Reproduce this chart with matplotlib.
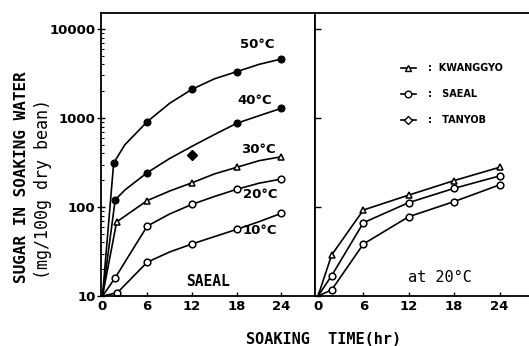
import matplotlib
matplotlib.use("Agg")
from matplotlib import pyplot as plt
from matplotlib.ticker import FixedLocator, NullFormatter, LogLocator
from matplotlib.lines import Line2D
import numpy as np

# left panel: SAEAL soaked at different temperatures (measured points)
t50 = [1.5, 6, 12, 18, 24]
s50 = [312, 908, 2100, 3310, 4600]
t40 = [1.7, 6, 12, 18, 24]
s40 = [120, 243, 384, 871, 1285]
t30 = [1.9, 6, 12, 18, 24]
s30 = [68, 118, 187, 279, 367]
t20 = [1.7, 6, 12, 18, 24]
s20 = [16, 61, 107, 158, 206]
t10 = [2, 6, 12, 18, 24]
s10 = [10.9, 24, 38.4, 56, 85]

# drawn curves
ct50 = [0, 1.5, 3, 6, 9, 12, 15, 18, 21, 24]
cv50 = [10, 312, 500, 908, 1460, 2100, 2750, 3310, 4000, 4600]
ct40 = [0, 1.7, 3, 6, 9, 12, 15, 18, 21, 24]
cv40 = [10, 120, 155, 243, 350, 480, 650, 871, 1060, 1285]
ct30 = [0, 1.9, 6, 9, 12, 15, 18, 21, 24]
cv30 = [10, 68, 118, 151, 187, 235, 279, 331, 367]
ct20 = [0, 1.7, 6, 9, 12, 15, 18, 21, 24]
cv20 = [10, 16, 61, 83.4, 107, 131, 158, 185, 206]
ct10 = [0, 2, 6, 9, 12, 15, 18, 21, 24]
cv10 = [10, 10.9, 24, 31.2, 38.4, 46.4, 56, 68.4, 85]

temp_labels = ["50°C", "40°C", "30°C", "20°C", "10°C"]

# right panel: three varieties at 20 C
tv = [0, 1.8, 6, 12, 18, 24]
kwanggyo = [10, 28.9, 92.5, 136, 198, 279]
saeal = [10, 16.9, 66.6, 112, 162, 223]
tanyob = [10, 11.7, 38.4, 77.8, 115, 177]
varieties = ["KWANGGYO", "SAEAL", "TANYOB"]

xticks = [0, 6, 12, 18, 24]

fig = plt.figure(figsize=(5.29, 3.46), dpi=100)
ax1 = fig.add_axes([101/529, 1-296/346, 214/529, 283/346])
ax2 = fig.add_axes([315/529, 1-296/346, 214/529, 283/346])

ms = 4.8
lw = 1.2
open_m = dict(mfc="white", mec="k", ms=ms, mew=1.1, ls="none")

for ct, cv in [(ct50, cv50), (ct40, cv40), (ct30, cv30), (ct20, cv20), (ct10, cv10)]:
    ax1.plot(ct, cv, "-", color="k", lw=lw)
ax1.plot(t50, s50, "o", color="k", ms=ms)
ax1.plot([t40[i] for i in (0, 1, 3, 4)], [s40[i] for i in (0, 1, 3, 4)], "o", color="k", ms=ms)
ax1.plot([t40[2]], [s40[2]], "D", color="k", ms=ms)
ax1.plot(t30, s30, marker="^", **open_m)
ax1.plot(t20, s20, marker="o", **open_m)
ax1.plot(t10, s10, marker="o", **open_m)

label_pos = [(257, 45), (255, 100), (258, 150), (260, 195), (260, 230)]
for lab, (px, py) in zip(temp_labels, label_pos):
    fig.text(px/529, 1-py/346, lab, ha="center", va="center",
             fontsize=9.5, fontweight="bold", family="DejaVu Sans")
fig.text(208/529, 1-281/346, "SAEAL", ha="center", va="center",
         fontsize=10.5, family="DejaVu Sans Mono", fontweight="bold")

ax2.plot(tv, kwanggyo, "-", color="k", lw=lw)
ax2.plot(tv[1:], kwanggyo[1:], marker="^", **open_m)
ax2.plot(tv, saeal, "-", color="k", lw=lw)
ax2.plot(tv[1:], saeal[1:], marker="o", **open_m)
ax2.plot(tv, tanyob, "-", color="k", lw=lw)
ax2.plot(tv[1:], tanyob[1:], marker="o", **open_m)
fig.text(440/529, 1-278/346, "at 20°C", ha="center", va="center",
         fontsize=11, family="DejaVu Sans Mono")

# legend drawn like the original: marker, colon, name
handles = [Line2D([], [], color="k", lw=lw, marker="^", mfc="white", mec="k", ms=ms),
           Line2D([], [], color="k", lw=lw, marker="o", mfc="white", mec="k", ms=ms),
           Line2D([], [], color="k", lw=lw, marker="D", mfc="white", mec="k", ms=ms-1)]
leg_labels = [":  " + varieties[0], ":   " + varieties[1], ":   " + varieties[2]]
ax2.legend(handles, leg_labels, loc="upper left",
           bbox_to_anchor=(0.38, 0.84), frameon=False, handlelength=1.5,
           handletextpad=1.3, labelspacing=1.65, borderpad=0,
           prop={"size": 7, "weight": "bold", "family": "DejaVu Sans"})

for ax in (ax1, ax2):
    ax.set_yscale("log")
    ax.set_ylim(10, 15100)
    ax.set_xticks(xticks)
    ax.set_xticklabels([str(v) for v in xticks], fontsize=9.5, fontweight="bold")
    ax.tick_params(axis="x", direction="in", length=3, width=1, pad=3)
    for s in ax.spines.values():
        s.set_linewidth(1.3)

ax1.set_xlim(-0.2, 28.5)
ax2.set_xlim(-0.4, 27.9)
ax2.spines["right"].set_visible(False)

ax1.yaxis.set_major_locator(FixedLocator([10, 100, 1000, 10000]))
ax1.set_yticklabels(["10", "100", "1000", "10000"], fontsize=9.5, fontweight="bold")
ax1.yaxis.set_minor_locator(LogLocator(base=10, subs=np.arange(2, 10)))
ax1.yaxis.set_minor_formatter(NullFormatter())
ax1.tick_params(axis="y", which="major", direction="inout", length=6, width=1, pad=1)
ax1.tick_params(axis="y", which="minor", direction="in", length=2, width=0.8)

ax2.yaxis.set_major_locator(FixedLocator([10, 100, 1000, 10000]))
ax2.yaxis.set_minor_locator(FixedLocator([]))
ax2.set_yticklabels([])
ax2.tick_params(axis="y", which="major", direction="in", length=4, width=1)

fig.text(22/529, 1-177/346, "SUGAR IN SOAKING WATER", rotation=90, ha="center", va="center",
         fontsize=11.5, family="DejaVu Sans Mono", fontweight="bold")
fig.text(43/529, 1-189/346, "(mg/100g dry bean)", rotation=90, ha="center", va="center",
         fontsize=12, family="DejaVu Sans Mono")
fig.text(324/529, 1-339/346, "SOAKING  TIME(hr)", ha="center", va="center",
         fontsize=11, family="DejaVu Sans Mono", fontweight="bold")

fig.savefig("out.png", dpi=100)
